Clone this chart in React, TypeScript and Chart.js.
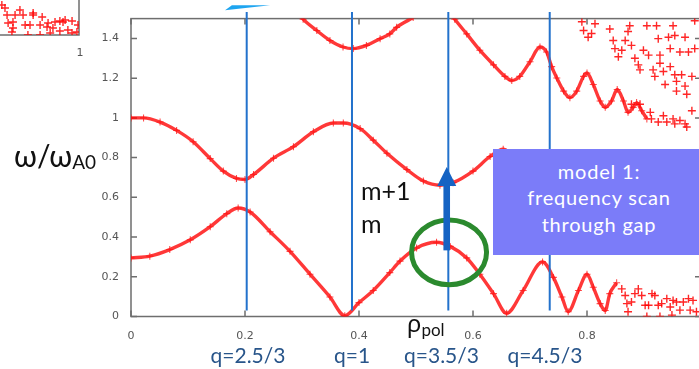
import React, { useEffect, useRef } from "react";
import { Chart, registerables } from "chart.js";

Chart.register(...registerables);

// ---------- axes ----------
const xTickValues = [0, 0.2, 0.4, 0.6, 0.8, 1];
const xTickLabels = ["0", "0.2", "0.4", "0.6", "0.8", ""];
const yTickValues = [0, 0.2, 0.4, 0.6, 0.8, 1, 1.2, 1.4];
const yTickLabels = ["0", "0.2", "0.4", "0.6", "0.8", "1", "1.2", "1.4"];

// ---------- continuum branches (dense) ----------
const lowerX = [0.0, 0.033, 0.068, 0.104, 0.139, 0.168, 0.188, 0.209, 0.244, 0.279, 0.314, 0.349, 0.375, 0.4, 0.425, 0.454, 0.472, 0.501, 0.536, 0.56, 0.589, 0.612, 0.636, 0.659, 0.688, 0.722, 0.741, 0.756, 0.767, 0.785, 0.8, 0.811, 0.823, 0.832, 0.84, 0.852];
const lowerY = [0.295, 0.304, 0.337, 0.386, 0.452, 0.518, 0.546, 0.526, 0.427, 0.328, 0.213, 0.098, 0.004, 0.07, 0.131, 0.221, 0.279, 0.345, 0.374, 0.353, 0.295, 0.213, 0.115, 0.016, 0.131, 0.275, 0.197, 0.098, 0.024, 0.131, 0.213, 0.147, 0.065, 0.03, 0.115, 0.17];

const middleX = [0.0, 0.022, 0.051, 0.08, 0.109, 0.139, 0.162, 0.185, 0.2, 0.215, 0.25, 0.285, 0.32, 0.355, 0.3725, 0.402, 0.425, 0.449, 0.484, 0.513, 0.542, 0.565, 0.6, 0.63, 0.653, 0.67];
const middleY = [1.0, 1.0, 0.979, 0.937, 0.88, 0.795, 0.732, 0.695, 0.69, 0.715, 0.797, 0.855, 0.93, 0.974, 0.974, 0.946, 0.888, 0.822, 0.74, 0.682, 0.661, 0.674, 0.732, 0.806, 0.842, 0.81];

const upperLeftX = [0.296, 0.302, 0.326, 0.349, 0.372, 0.39, 0.413, 0.437, 0.454, 0.466, 0.495];
const upperLeftY = [1.52, 1.497, 1.44, 1.39, 1.357, 1.349, 1.365, 1.399, 1.423, 1.456, 1.505];

const upperRightX = [0.562, 0.568, 0.589, 0.612, 0.636, 0.656, 0.668, 0.682, 0.7, 0.7175, 0.729, 0.738, 0.747, 0.759, 0.77, 0.782, 0.794, 0.8, 0.811, 0.823, 0.832, 0.843, 0.853, 0.864, 0.872, 0.881, 0.887, 0.896, 0.905];
const upperRightY = [1.52, 1.497, 1.423, 1.341, 1.267, 1.209, 1.188, 1.209, 1.283, 1.357, 1.332, 1.258, 1.201, 1.135, 1.102, 1.135, 1.209, 1.226, 1.168, 1.085, 1.053, 1.085, 1.143, 1.085, 1.028, 1.053, 1.077, 1.036, 0.995];

// ---------- scattered points ----------
const scatterHighX = [0.791, 0.794, 0.802, 0.808, 0.814, 0.84, 0.846, 0.849, 0.855, 0.861, 0.867, 0.872, 0.875, 0.878, 0.884, 0.89, 0.893, 0.899, 0.905, 0.908, 0.916, 0.919, 0.922, 0.925, 0.928, 0.928, 0.934, 0.937, 0.943, 0.946, 0.946, 0.951, 0.954, 0.954, 0.957, 0.957, 0.963, 0.966, 0.972, 0.972, 0.975, 0.978, 0.984, 0.989, 0.989];
const scatterHighY = [1.484, 1.44, 1.406, 1.425, 1.474, 1.448, 1.39, 1.349, 1.308, 1.341, 1.39, 1.435, 1.464, 1.365, 1.3, 1.267, 1.242, 1.341, 1.464, 1.316, 1.242, 1.209, 1.464, 1.399, 1.316, 1.275, 1.234, 1.168, 1.406, 1.349, 1.258, 1.464, 1.415, 1.217, 1.184, 1.135, 1.332, 1.217, 1.406, 1.16, 1.119, 1.332, 1.209, 1.489, 1.349];

const scatterMidX = [0.878, 0.893, 0.911, 0.913, 0.925, 0.934, 0.94, 0.951, 0.954, 0.963, 0.972, 0.975, 0.984];
const scatterMidY = [1.069, 1.069, 1.028, 0.995, 0.979, 1.011, 0.979, 0.995, 0.97, 0.987, 0.97, 0.954, 1.036];

const scatterLowX = [0.861, 0.867, 0.87, 0.872, 0.878, 0.884, 0.89, 0.896, 0.902, 0.905, 0.908, 0.914, 0.919, 0.925, 0.928, 0.931, 0.94, 0.946, 0.949, 0.951, 0.957, 0.963, 0.969, 0.978, 0.981, 0.986, 0.992];
const scatterLowY = [0.139, 0.106, 0.065, 0.024, 0.073, 0.115, 0.139, 0.106, 0.057, 0.0, 0.057, 0.115, 0.106, 0.057, 0.0, 0.065, 0.09, 0.048, 0.007, 0.081, 0.073, 0.032, 0.073, 0.09, 0.032, 0.081, 0.024];

// ---------- inset (cropped neighbour plot) ----------
const insetX = [0.778, 0.787, 0.83, 0.793, 0.816, 0.839, 0.868, 0.868, 0.894, 0.81, 0.796, 0.845, 0.859, 0.888, 0.911, 0.931, 0.954, 0.98, 0.908, 0.925, 0.945, 0.968, 0.917, 0.888, 0.853, 0.807, 0.81, 0.997, 0.98, 0.994, 0.945, 0.96];
const insetY = [0.2, 0.18, 0.167, 0.133, 0.133, 0.133, 0.133, 0.147, 0.12, 0.087, 0.08, 0.067, 0.067, 0.067, 0.08, 0.087, 0.087, 0.093, 0.053, 0.047, 0.027, 0.033, 0.013, 0.0, 0.0, 0.02, 0.047, 0.067, 0.013, 0.02, 0.093, 0.1];

// ---------- annotations (data units) ----------
const qLineX = [0.203, 0.3877, 0.5567, 0.7346];
const qLineYRange = [0.03, 1.533];
const ellipseCenter = [0.558, 0.323];
const ellipseRadii = [0.0658, 0.163];
const arrowX = 0.5539;
const arrowYRange = [0.333, 0.659, 0.753]; // shaft bottom, head base, tip
const wedgeX = [0.165, 0.244, 0.177];
const wedgeY = [1.542, 1.567, 1.567];

const pts = (xs: number[], ys: number[]) => xs.map((x, i) => ({ x, y: ys[i] }));

const RED_LINE = "rgba(255,0,0,0.78)";
const RED_PT = "rgba(255,20,20,0.75)";

const dense = (xs: number[], ys: number[]) => ({
  data: pts(xs, ys),
  showLine: true,
  borderColor: RED_LINE,
  borderWidth: 3.4,
  cubicInterpolationMode: "monotone" as const,
  pointStyle: "cross" as const,
  pointRadius: 3.5,
  pointBorderWidth: 1.1,
  pointBorderColor: RED_PT,
  pointBackgroundColor: "transparent",
  fill: false,
});

const sparse = (xs: number[], ys: number[]) => ({
  data: pts(xs, ys),
  showLine: false,
  pointStyle: "cross" as const,
  pointRadius: 4,
  pointBorderWidth: 1.4,
  pointBorderColor: "rgba(255,0,0,0.85)",
  pointBackgroundColor: "transparent",
});

const FRAME = "#6e6e6e";

const decorPlugin = {
  id: "decor",
  beforeDatasetsDraw(chart: any) {
    const { ctx, chartArea: a, scales } = chart;
    const x = scales.x, y = scales.y;
    ctx.save();
    ctx.strokeStyle = FRAME;
    ctx.lineWidth = 1.5;
    ctx.strokeRect(a.left, a.top, a.right - a.left, a.bottom - a.top);
    ctx.beginPath();
    for (const v of xTickValues) {
      const px = x.getPixelForValue(v);
      ctx.moveTo(px, a.bottom);
      ctx.lineTo(px, a.bottom - 6);
      ctx.moveTo(px, a.top);
      ctx.lineTo(px, a.top + 6);
    }
    for (const v of yTickValues) {
      const py = y.getPixelForValue(v);
      ctx.moveTo(a.left, py);
      ctx.lineTo(a.left + 6, py);
      ctx.moveTo(a.right, py);
      ctx.lineTo(a.right - 6, py);
    }
    ctx.stroke();
    ctx.restore();
  },
  afterDatasetsDraw(chart: any) {
    const { ctx, scales } = chart;
    const x = scales.x, y = scales.y;
    ctx.save();
    // q = rational surfaces
    ctx.strokeStyle = "#2372cc";
    ctx.lineWidth = 2;
    for (const q of qLineX) {
      const px = x.getPixelForValue(q);
      ctx.beginPath();
      ctx.moveTo(px, y.getPixelForValue(qLineYRange[1]));
      ctx.lineTo(px, y.getPixelForValue(qLineYRange[0]));
      ctx.stroke();
    }
    // green ellipse
    const cx = x.getPixelForValue(ellipseCenter[0]);
    const cy = y.getPixelForValue(ellipseCenter[1]);
    const rx = x.getPixelForValue(ellipseCenter[0] + ellipseRadii[0]) - cx;
    const ry = cy - y.getPixelForValue(ellipseCenter[1] + ellipseRadii[1]);
    ctx.strokeStyle = "#2b8a2e";
    ctx.lineWidth = 5;
    ctx.beginPath();
    ctx.ellipse(cx, cy, rx, ry, 0, 0, Math.PI * 2);
    ctx.stroke();
    // blue arrow
    const ax = x.getPixelForValue(arrowX);
    const y0 = y.getPixelForValue(arrowYRange[0]);
    const yb = y.getPixelForValue(arrowYRange[1]);
    const yt = y.getPixelForValue(arrowYRange[2]);
    ctx.fillStyle = "#1563c3";
    ctx.fillRect(ax - 3.3, yb, 6.6, y0 - yb);
    ctx.beginPath();
    ctx.moveTo(ax - 9.5, yb + 0.5);
    ctx.lineTo(ax + 9.5, yb + 0.5);
    ctx.lineTo(ax, yt);
    ctx.closePath();
    ctx.fill();
    // light-blue wedge at top (cropped arrow)
    ctx.fillStyle = "#1ea5f0";
    ctx.beginPath();
    wedgeX.forEach((wx, i) => {
      const px = x.getPixelForValue(wx);
      const py = y.getPixelForValue(wedgeY[i]);
      if (i === 0) ctx.moveTo(px, py);
      else ctx.lineTo(px, py);
    });
    ctx.closePath();
    ctx.fill();
    ctx.restore();
  },
};

const insetPlugin = {
  id: "insetFrame",
  beforeDatasetsDraw(chart: any) {
    const { ctx, chartArea: a } = chart;
    ctx.save();
    ctx.strokeStyle = FRAME;
    ctx.lineWidth = 1.5;
    ctx.strokeRect(a.left, a.top, a.right - a.left, a.bottom - a.top);
    ctx.restore();
  },
};

const tickFont = { family: "'DejaVu Sans', sans-serif", size: 11 };

const labelFor = (vals: number[], labels: string[]) => (v: any) => {
  const i = vals.findIndex((t) => Math.abs(t - Number(v)) < 1e-9);
  return i >= 0 ? labels[i] : "";
};

const TEXT_FONT = "Lato, 'Noto Sans', sans-serif";

function Txt(props: { left: number; baseline: number; size: number; color?: string; center?: boolean; family?: string; style?: any; children: any }) {
  const { left, baseline, size, color, center, family, style, children } = props;
  return (
    <div
      style={{
        position: "absolute",
        left,
        top: baseline - 0.887 * size,
        fontSize: size,
        lineHeight: `${size}px`,
        fontFamily: family || TEXT_FONT,
        color: color || "#111",
        whiteSpace: "nowrap",
        transform: center ? "translateX(-50%)" : undefined,
        ...style,
      }}
    >
      {children}
    </div>
  );
}

const qLabels = ["q=2.5/3", "q=1", "q=3.5/3", "q=4.5/3"];
const qLabelCenters = [248, 352, 441.5, 545];
const boxLines = ["model 1:", "frequency scan", "through gap"];

export default function App() {
  const mainRef = useRef<HTMLCanvasElement>(null);
  const insetRef = useRef<HTMLCanvasElement>(null);

  useEffect(() => {
    const main = new Chart(mainRef.current!, {
      type: "scatter",
      data: {
        datasets: [
          dense(lowerX, lowerY),
          dense(middleX, middleY),
          dense(upperLeftX, upperLeftY),
          dense(upperRightX, upperRightY),
          sparse(scatterHighX, scatterHighY),
          sparse(scatterMidX, scatterMidY),
          sparse(scatterLowX, scatterLowY),
        ] as any,
      },
      options: {
        animation: false,
        responsive: false,
        maintainAspectRatio: false,
        layout: { padding: { left: 0, right: 19, top: 13, bottom: 0 } },
        plugins: { legend: { display: false }, tooltip: { enabled: false } },
        scales: {
          x: {
            type: "linear",
            min: 0,
            max: 1,
            grid: { display: false, drawTicks: false },
            border: { display: false },
            ticks: { padding: 13, color: "#555", font: tickFont, maxRotation: 0, autoSkip: false, callback: labelFor(xTickValues, xTickLabels) },
            afterBuildTicks: (s: any) => {
              s.ticks = xTickValues.map((v) => ({ value: v }));
            },
            afterFit: (s: any) => {
              s.height = 52.5;
            },
          },
          y: {
            type: "linear",
            min: 0,
            max: 1.5,
            grid: { display: false, drawTicks: false },
            border: { display: false },
            ticks: { padding: 12, color: "#555", font: tickFont, autoSkip: false, callback: labelFor(yTickValues, yTickLabels) },
            afterBuildTicks: (s: any) => {
              s.ticks = yTickValues.map((v) => ({ value: v }));
            },
            afterFit: (s: any) => {
              s.width = 131;
            },
          },
        },
      } as any,
      plugins: [decorPlugin],
    });

    const inset = new Chart(insetRef.current!, {
      type: "scatter",
      data: { datasets: [sparse(insetX, insetY)] as any },
      options: {
        animation: false,
        responsive: false,
        maintainAspectRatio: false,
        layout: { padding: { left: 20, right: 21, top: 10, bottom: 25 } },
        plugins: { legend: { display: false }, tooltip: { enabled: false } },
        scales: {
          x: { type: "linear", min: 0.6, max: 1, display: false },
          y: { type: "linear", min: 0, max: 0.5, display: false },
        },
      } as any,
      plugins: [insetPlugin],
    });

    return () => {
      main.destroy();
      inset.destroy();
    };
  }, []);

  return (
    <div style={{ position: "fixed", left: 0, top: 0, width: 699, height: 369, overflow: "hidden", background: "#fff" }}>
      <canvas ref={insetRef} width={180} height={110} style={{ position: "absolute", left: -80, top: -50 }} />
      <canvas ref={mainRef} width={720} height={369} style={{ position: "absolute", left: 0, top: 0 }} />

      <Txt left={80} baseline={56.5} size={11} color="#555" center family="'DejaVu Sans', sans-serif">1</Txt>

      <Txt left={14} baseline={167} size={30}>
        ω/ω<span style={{ fontSize: 19, position: "relative", top: 2 }}>A0</span>
      </Txt>

      <Txt left={361} baseline={200} size={25}>m+1</Txt>
      <Txt left={361} baseline={233.5} size={25}>m</Txt>

      <Txt left={407} baseline={332} size={24} family="'Noto Sans', sans-serif">
        ρ<span style={{ fontSize: 17, position: "relative", top: 4, fontFamily: TEXT_FONT }}>pol</span>
      </Txt>

      {qLabels.map((t, i) => (
        <Txt key={t} left={qLabelCenters[i]} baseline={363} size={21} color="#28558a" center>
          {t}
        </Txt>
      ))}

      <div style={{ position: "absolute", left: 493, top: 149, width: 220, height: 106, background: "#7b7cf9" }} />
      {boxLines.map((t, i) => (
        <Txt key={t} left={599} baseline={178.5 + i * 26.6} size={20} color="#fff" center style={{ letterSpacing: 0.8 }}>
          {t}
        </Txt>
      ))}
    </div>
  );
}
